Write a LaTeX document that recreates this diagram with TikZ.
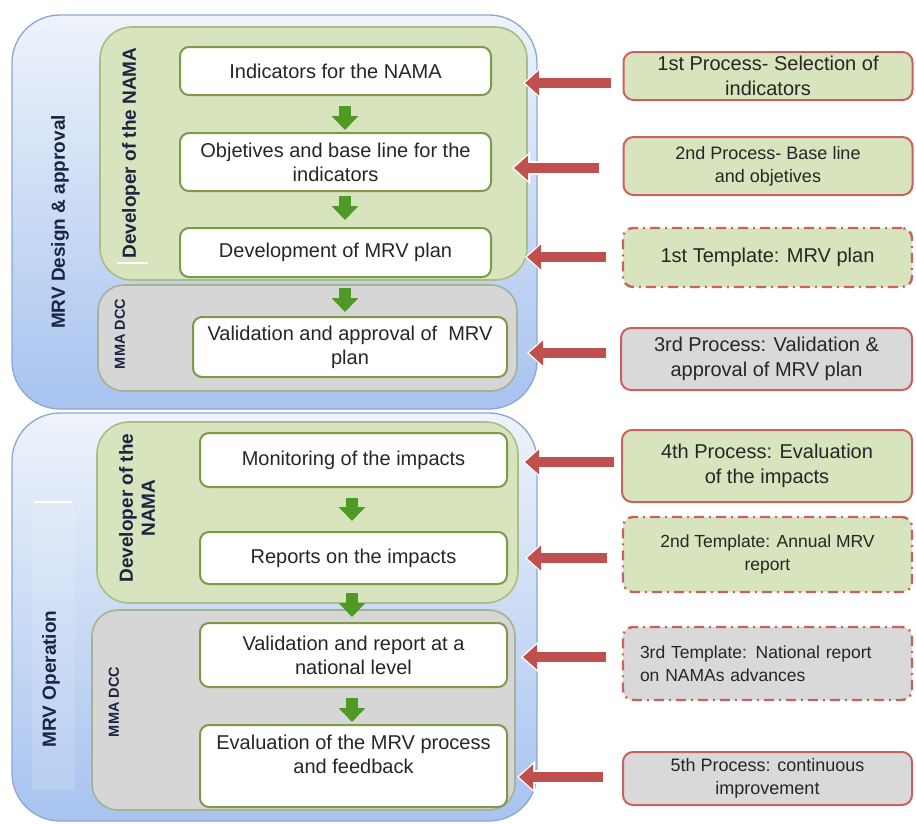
\documentclass[tikz,border=0pt]{standalone}
\usepackage{fontspec}
\setmainfont{Liberation Sans}
\usetikzlibrary{arrows.meta,calc}

\definecolor{bluetop}{HTML}{EEF3FB}
\definecolor{bluebot}{HTML}{A7C3EF}
\definecolor{outerline}{HTML}{8CA7D4}
\definecolor{panelgreen}{HTML}{D7E4BD}
\definecolor{panelgreenline}{HTML}{A9BE84}
\definecolor{panelgrey}{HTML}{D6D6D6}
\definecolor{panelgreyline}{HTML}{A6B293}
\definecolor{boxline}{HTML}{7C9A48}
\definecolor{arrowgreen}{HTML}{4F9A24}
\definecolor{arrowred}{HTML}{C0504D}
\definecolor{rboxline}{HTML}{C9625F}
\definecolor{rgrey}{HTML}{D9D9D9}
\definecolor{labelcol}{HTML}{1B2440}
\definecolor{textcol}{HTML}{262626}

\begin{document}
\begin{tikzpicture}[x=1pt,y=-1pt,
  outerbox/.style={draw=outerline, line width=1.3pt, rounded corners=48pt,
    top color=bluetop, bottom color=bluebot},
  greenpanel/.style={draw=panelgreenline, line width=1.6pt, fill=panelgreen, rounded corners=32pt},
  greypanel/.style={draw=panelgreyline, line width=1.6pt, fill=panelgrey, rounded corners=26pt},
  stepbox/.style={draw=boxline, line width=2pt, fill=white, rounded corners=9pt,
    font=\fontsize{20}{24}\selectfont, align=center, inner sep=0pt, text=textcol},
  rolelabel/.style={rotate=90, font=\fontsize{19}{22}\selectfont\bfseries, text=labelcol, align=center},
  smalllabel/.style={rotate=90, font=\fontsize{14.5}{17}\selectfont\bfseries, text=labelcol},
  rbox/.style={draw=rboxline, line width=2pt, rounded corners=10pt, inner sep=0pt,
    text=textcol, align=center, minimum width=289pt},
  procgreen/.style={rbox, fill=panelgreen},
  procgrey/.style={rbox, fill=rgrey},
  tmpl/.style={dash pattern=on 10pt off 5pt on 2pt off 5pt, line width=2.4pt},
  fbig/.style={font=\fontsize{20}{24.5}\selectfont},
  fsmall/.style={font=\fontsize{17.5}{23}\selectfont},
  garrow/.style={draw=arrowgreen, line width=12pt, -{Triangle[length=14pt,width=26pt]}},
  redarrow/.style={draw=arrowred, line width=10pt, -{Triangle[length=14pt,width=24pt]}},
  redhalo/.style={draw=white, line width=14pt, -{Triangle[length=18pt,width=31pt]},
    shorten >=-2pt, shorten <=-1pt}
]
\useasboundingbox (0,0) rectangle (916,823);
\fill[white] (0,0) rectangle (916,823);

% ---- stage frames ----
\draw[outerbox] (12,15) rectangle (537,409);
\draw[outerbox] (12,413) rectangle (537,821);
\fill[white, opacity=0.13] (32,500) rectangle (75,790);
\draw[white, line width=1.5pt] (34,502) -- (72,502);

% ---- responsibility panels ----
\draw[greenpanel] (100,27) rectangle (527,280);
\draw[greypanel] (98,285) rectangle (517,391);
\draw[greenpanel] (97,422) rectangle (518,603);
\draw[greypanel] (92,610) rectangle (515,810);
\draw[white, line width=1.5pt] (117,263) -- (148,263);

% ---- vertical labels ----
\node[rolelabel] (stage1) at (60,222) {MRV Design \& approval};
\node[rolelabel] (stage2) at (51,679) {MRV Operation};
\node[rolelabel] (dev1) at (131,153) {Developer of the NAMA};
\node[rolelabel] (dev2) at (137,508) {Developer of the\\NAMA};
\node[smalllabel] (mma1) at (120,334) {MMA DCC};
\node[smalllabel] (mma2) at (114,702) {MMA DCC};

% ---- process steps ----
\node[stepbox, minimum width=311pt, minimum height=48pt] (b1) at (335.5,71) {Indicators for the NAMA};
\node[stepbox, minimum width=311pt, minimum height=58pt] (b2) at (335.5,162) {Objetives and base line for the\\indicators};
\node[stepbox, minimum width=311pt, minimum height=49pt] (b3) at (335.5,252.5) {Development of MRV plan};
\node[stepbox, minimum width=314pt, minimum height=60pt] (b4) at (350,347) {Validation and approval of\hspace{0.55em}MRV\\plan};
\node[stepbox, minimum width=307pt, minimum height=54pt] (b5) at (353.5,460) {Monitoring of the impacts};
\node[stepbox, minimum width=307pt, minimum height=52pt] (b6) at (353.5,558) {Reports on the impacts};
\node[stepbox, minimum width=307pt, minimum height=64pt] (b7) at (353.5,655) {Validation and report at a\\national level};
\node[stepbox, minimum width=307pt, minimum height=82pt] (b8) at (353.5,766) {Evaluation of the MRV process\\and feedback\\\mbox{}};

% ---- flow arrows ----
\draw[garrow, shorten <=10pt, shorten >=2pt] ([xshift=9.5pt]b1.south) -- ([xshift=9.5pt]b1.south |- b2.north);
\draw[garrow, shorten <=4pt, shorten >=7pt] ([xshift=9.5pt]b2.south) -- ([xshift=9.5pt]b2.south |- b3.north);
\draw[garrow, shorten <=10pt, shorten >=4pt] ([xshift=9.5pt]b3.south) -- ([xshift=9.5pt]b3.south |- b4.north);
\draw[garrow, shorten <=10pt, shorten >=10pt] ([xshift=-1.5pt]b5.south) -- ([xshift=-1.5pt]b5.south |- b6.north);
\draw[garrow, shorten <=8pt, shorten >=5pt] ([xshift=-1.5pt]b6.south) -- ([xshift=-1.5pt]b6.south |- b7.north);
\draw[garrow, shorten <=10pt, shorten >=2pt] ([xshift=-1.5pt]b7.south) -- ([xshift=-1.5pt]b7.south |- b8.north);

% ---- processes and templates ----
\node[procgreen, fbig, minimum height=48pt] (r1) at (768,76) {1st Process- Selection of\\indicators};
\node[procgreen, font=\fontsize{18}{23}\selectfont, minimum height=58pt] (r2) at (768,166) {2nd Process- Base line\\and objetives};
\node[procgreen, tmpl, fbig, minimum height=59pt] (r3) at (767.5,257.5) {1st Template: MRV plan};
\node[procgrey, fbig, minimum height=62pt, minimum width=291pt] (r4) at (766.5,359) {3rd Process: Validation \&\\approval of MRV plan};
\node[procgreen, fbig, minimum height=72pt, minimum width=290pt] (r5) at (767,466) {4th Process: Evaluation\\of the impacts};
\node[procgreen, tmpl, fsmall, minimum height=75pt] (r6) at (767.5,554.5) {2nd Template: Annual MRV\\report};
\node[procgrey, tmpl, fsmall, minimum height=73pt, inner xsep=17pt, text width=255pt, align=left] (r7) at (767.5,663.5) {3rd Template: National report\\on NAMAs advances};
\node[procgrey, font=\fontsize{18}{23}\selectfont, minimum height=53pt] (r8) at (767.5,778.5) {5th Process: continuous\\improvement};

% ---- arrow tips on the stage frames ----
\coordinate (t1) at (525,83);
\coordinate (t2) at (514,168);
\coordinate (t3) at (527,257);
\coordinate (t4) at (529,353);
\coordinate (t5) at (525,462);
\coordinate (t6) at (527,558);
\coordinate (t7) at (523,657);
\coordinate (t8) at (519,777);

\foreach \r/\t/\g in {r1/t1/12, r2/t2/24, r3/t3/16, r4/t4/14, r5/t5/7, r6/t6/15, r7/t7/16, r8/t8/19}{
  \draw[redhalo] ([xshift=-\g pt]\r.west |- \t) -- (\t);
  \draw[redarrow] ([xshift=-\g pt]\r.west |- \t) -- (\t);
}
\end{tikzpicture}
\end{document}
